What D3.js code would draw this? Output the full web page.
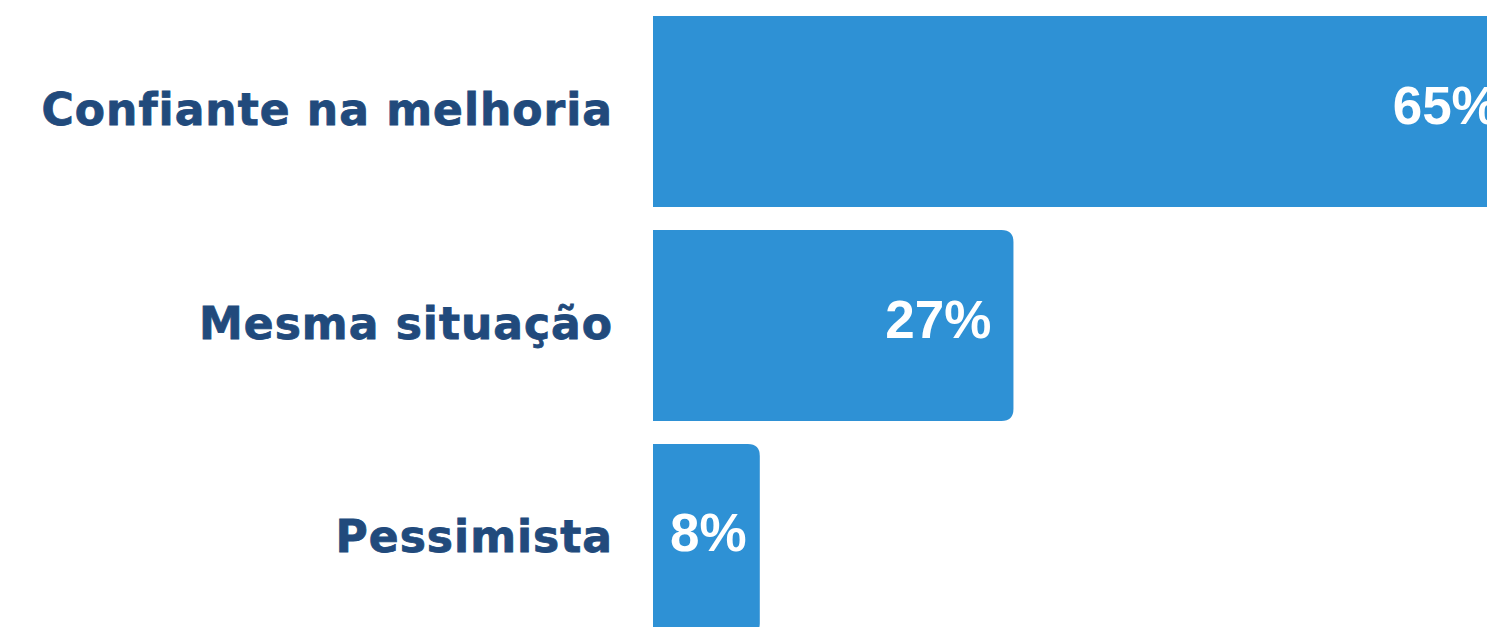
<!DOCTYPE html>
<html>
<head>
<meta charset="utf-8">
<script src="https://cdn.jsdelivr.net/npm/d3@7"></script>
<style>
  body { margin: 0; background: #fff; overflow: hidden; }
  .cat { font-family: "DejaVu Sans", sans-serif; font-weight: bold; fill: #214a7c;
         stroke: #214a7c; stroke-width: 0.8px; letter-spacing: 1px; }
  .val { font-family: "Liberation Sans", Arial, sans-serif; font-weight: bold; fill: #fff; }
</style>
</head>
<body>
<script>
var categories = ["Confiante na melhoria", "Mesma situação", "Pessimista"];
var values = [65, 27, 8];
var valueLabels = ["65%", "27%", "8%"];

var width = 1487, height = 627;
var x0 = 653;

var svg = d3.select("body").append("svg")
    .attr("width", width)
    .attr("height", height);

var x = d3.scaleLinear().domain([0, 100]).range([x0, x0 + 1335]);
var y = d3.scaleBand().domain(categories).range([16, 635]).paddingInner(0.107);

var data = categories.map(function(c, i){ return {cat: c, v: values[i], label: valueLabels[i]}; });

// bar with rounded right corners only
function barPath(d) {
  var x1 = x(0), x2 = x(d.v), y1 = y(d.cat), h = y.bandwidth(), r = 12;
  return "M" + x1 + "," + y1 +
    "H" + (x2 - r) +
    "Q" + x2 + "," + y1 + " " + x2 + "," + (y1 + r) +
    "V" + (y1 + h - r) +
    "Q" + x2 + "," + (y1 + h) + " " + (x2 - r) + "," + (y1 + h) +
    "H" + x1 + "Z";
}

svg.selectAll(".bar").data(data).enter().append("path")
    .attr("class", "bar")
    .attr("d", barPath)
    .attr("fill", "#2e91d5");

svg.selectAll(".val").data(data).enter().append("text")
    .attr("class", "val")
    .attr("y", d => y(d.cat) + y.bandwidth() / 2 + 12)
    .attr("text-anchor", "end")
    .style("font-size", "53px")
    .text(d => d.label)
    .attr("x", function(d) {
      // right-aligned inside the bar, but never closer than 17px to the bar start
      var w = this.getComputedTextLength();
      return Math.max(x(d.v) - 22, x0 + 17 + w);
    });

svg.selectAll(".cat").data(data).enter().append("text")
    .attr("class", "cat")
    .attr("x", 613)
    .attr("y", d => y(d.cat) + y.bandwidth() / 2 + 13)
    .attr("text-anchor", "end")
    .style("font-size", "44px")
    .text(d => d.cat);
</script>
</body>
</html>
